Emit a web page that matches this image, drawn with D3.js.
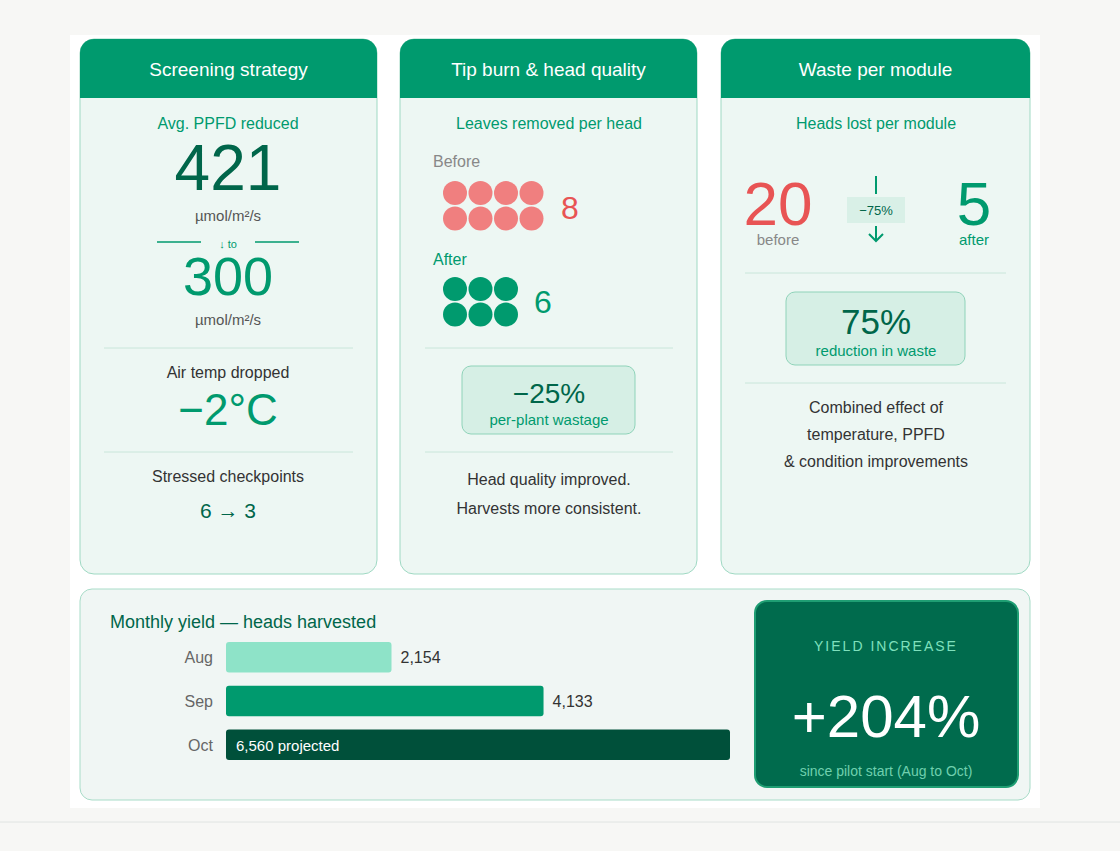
<!DOCTYPE html><html><head><meta charset="utf-8"><script src="https://cdn.jsdelivr.net/npm/d3@7"></script>
<style>body{margin:0;background:#f7f7f5;font-family:"Liberation Sans",Arial,sans-serif}</style></head><body>
<svg id="c" width="1120" height="851"></svg>
<script>
const months=["Aug","Sep","Oct"];
const yieldValues=[2154,4133,6560];
const yieldLabels=["2,154","4,133","6,560 projected"];
const leavesBefore=8, leavesAfter=6;
const headsBefore=20, headsAfter=5;
const cardTitles=["Screening strategy","Tip burn & head quality","Waste per module"];

const svg=d3.select("#c");
const G="#009a6e",DG="#00664a",T="#333";
svg.append("rect").attr("x",70).attr("y",35).attr("width",970).attr("height",773).attr("fill","#fff");
svg.append("line").attr("x1",0).attr("x2",1120).attr("y1",822).attr("y2",822).attr("stroke","#e0e4e2");
const cards=[[80,297],[400,297],[721,309]];
function txt(x,y,s,size,fill,opt={}){return svg.append("text").attr("x",x).attr("y",y).attr("text-anchor",opt.anchor||"middle").attr("font-size",size).attr("fill",fill).attr("font-weight",opt.w||400).attr("letter-spacing",opt.ls||0).text(s);}
cards.forEach(([x,w],i)=>{
  svg.append("rect").attr("x",x).attr("y",39).attr("width",w).attr("height",535).attr("rx",14).attr("fill","#edf7f3").attr("stroke","#9fd9c3");
  svg.append("path").attr("d",`M${x},98 V53 a14,14 0 0 1 14,-14 H${x+w-14} a14,14 0 0 1 14,14 V98 Z`).attr("fill",G);
  txt(x+w/2,76,cardTitles[i],19,"#fff");
});
function hr(x1,x2,y){svg.append("line").attr("x1",x1).attr("x2",x2).attr("y1",y).attr("y2",y).attr("stroke","#c9e6da");}
// card 1
let cx=228;
txt(cx,129,"Avg. PPFD reduced",16,G);
txt(cx,190,"421",64,DG);
txt(cx,221,"µmol/m²/s",15,"#555");
svg.append("line").attr("x1",157).attr("x2",201).attr("y1",242).attr("y2",242).attr("stroke",G).attr("stroke-width",1.5);
svg.append("line").attr("x1",255).attr("x2",299).attr("y1",242).attr("y2",242).attr("stroke",G).attr("stroke-width",1.5);
txt(cx,248,"↓ to",11,G);
txt(cx,295,"300",54,G);
txt(cx,325,"µmol/m²/s",15,"#555");
hr(104,353,348);
txt(cx,378,"Air temp dropped",16,T);
txt(cx,425,"−2°C",44,G);
hr(104,353,452);
txt(cx,482,"Stressed checkpoints",16,T);
txt(cx,518,"6 → 3",21,DG);
// card 2
cx=549;
txt(cx,129,"Leaves removed per head",16,G);
txt(433,167,"Before",16,"#888",{anchor:"start"});
const dot=(n,cols,x0,y0,col)=>svg.append("g").selectAll("circle").data(d3.range(n)).join("circle")
 .attr("cx",d=>x0+(d%cols)*25.5).attr("cy",d=>y0+Math.floor(d/cols)*25.5).attr("r",12).attr("fill",col);
dot(leavesBefore,4,455,193,"#f07f7f");
txt(561,219,String(leavesBefore),32,"#e85454",{anchor:"start"});
txt(433,265,"After",16,G,{anchor:"start"});
dot(leavesAfter,3,455,289,G);
txt(534,313,String(leavesAfter),32,G,{anchor:"start"});
hr(425,673,348);
svg.append("rect").attr("x",462).attr("y",366).attr("width",173).attr("height",68).attr("rx",9).attr("fill","#d6efe5").attr("stroke","#8fd3b9");
txt(cx,403,"−25%",28,DG);
txt(cx,425,"per-plant wastage",15,G);
hr(425,673,452);
txt(cx,485,"Head quality improved.",16,T);
txt(cx,514,"Harvests more consistent.",16,T);
// card 3
cx=876;
txt(cx,129,"Heads lost per module",16,G);
txt(778,225,String(headsBefore),62,"#e85454");
txt(778,245,"before",15,"#888");
txt(974,225,String(headsAfter),62,G);
txt(974,245,"after",15,G);
svg.append("line").attr("x1",876).attr("x2",876).attr("y1",176).attr("y2",194).attr("stroke",G).attr("stroke-width",2);
svg.append("rect").attr("x",847).attr("y",197).attr("width",58).attr("height",26).attr("fill","#d9f0e7");
txt(cx,215,"−75%",13,DG);
svg.append("path").attr("d","M876,226 V241 M869,234 L876,241 L883,234").attr("fill","none").attr("stroke",G).attr("stroke-width",2);
hr(745,1006,273);
svg.append("rect").attr("x",786).attr("y",292).attr("width",179).attr("height",73).attr("rx",9).attr("fill","#d6efe5").attr("stroke","#8fd3b9");
txt(cx,334,"75%",35,DG);
txt(cx,356,"reduction in waste",15,G);
hr(745,1006,383);
["Combined effect of","temperature, PPFD","& condition improvements"].forEach((s,i)=>txt(cx,413+i*27,s,16,T));
// bottom card
svg.append("rect").attr("x",80).attr("y",589).attr("width",950).attr("height",211).attr("rx",12).attr("fill","#f0f6f4").attr("stroke","#a8dcc8");
txt(110,628,"Monthly yield — heads harvested",18,DG,{anchor:"start"});
const x=d3.scaleLinear().domain([0,6560]).range([226,730]);
const y=d3.scaleBand().domain(months).range([642,760]).paddingInner(0.3);
const cols=["#8ee3c8",G,"#00503a"];
months.forEach((m,i)=>{
  svg.append("rect").attr("x",x(0)).attr("y",y(m)).attr("width",x(yieldValues[i])-x(0)).attr("height",y.bandwidth()).attr("rx",3).attr("fill",cols[i]);
  txt(213,y(m)+y.bandwidth()/2+6,m,16,"#666",{anchor:"end"});
  if(i<2) txt(x(yieldValues[i])+9,y(m)+y.bandwidth()/2+6,yieldLabels[i],16,"#333",{anchor:"start"});
  else txt(236,y(m)+y.bandwidth()/2+6,yieldLabels[i],15,"#fff",{anchor:"start"});
});
svg.append("rect").attr("x",755).attr("y",601).attr("width",263).attr("height",186).attr("rx",12).attr("fill","#006b4d").attr("stroke","#1f9e73").attr("stroke-width",2);
txt(886,651,"YIELD INCREASE",14,"#7fe0bd",{ls:2});
txt(886,737,"+204%",60,"#fff");
txt(886,776,"since pilot start (Aug to Oct)",14,"#6fd0ae");
</script></body></html>
